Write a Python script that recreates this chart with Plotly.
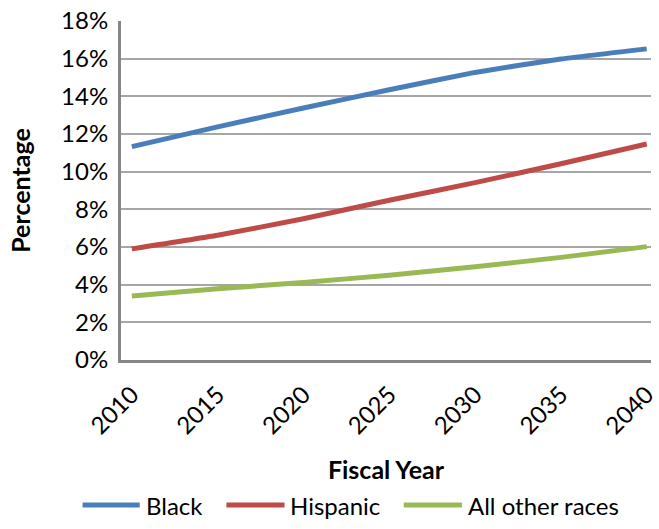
import plotly.graph_objects as go

years = [2010, 2015, 2020, 2025, 2030, 2035, 2040]
black = [11.33, 12.38, 13.38, 14.35, 15.27, 15.98, 16.52]
hispanic = [5.9, 6.62, 7.5, 8.48, 9.42, 10.42, 11.47]
other = [3.4, 3.78, 4.12, 4.5, 4.95, 5.45, 6.02]
series_names = ["Black", "Hispanic", "All other races"]
colors = ["#4A7EBB", "#BE4B48", "#98B954"]
y_ticks = [0, 2, 4, 6, 8, 10, 12, 14, 16, 18]
y_ticklabels = [f"{v}%" for v in y_ticks]

FONT = "Lato"
W, H = 659, 529
ML, MR, MT, MB = 121, 0, 21, 169
PW, PH = W - ML - MR, H - MT - MB

fig = go.Figure()
for name, vals, col in zip(series_names, [black, hispanic, other], colors):
    fig.add_trace(go.Scatter(x=years, y=vals, mode="lines", name=name, showlegend=False,
                             line=dict(color=col, width=5, shape="spline", smoothing=0.4)))

# custom legend (long swatches like the original), positions in pixels -> paper
def px_x(p):
    return (p - ML) / PW

def px_y(p):
    return (H - MB - p) / PH

legend_swatch_px = [(82, 140), (228, 287), (408, 467)]
legend_y_px = 505
for name, col, (x0, x1) in zip(series_names, colors, legend_swatch_px):
    fig.add_shape(type="line", xref="paper", yref="paper",
                  x0=px_x(x0), x1=px_x(x1), y0=px_y(legend_y_px), y1=px_y(legend_y_px),
                  line=dict(color=col, width=5))
    fig.add_annotation(xref="paper", yref="paper", x=px_x(x1 + 4), y=px_y(legend_y_px),
                       text=name, showarrow=False, xanchor="left", yanchor="middle",
                       font=dict(family=FONT, size=24, color="#000000"))

fig.update_layout(
    width=W, height=H,
    margin=dict(l=ML, r=MR, t=MT, b=MB),
    paper_bgcolor="white", plot_bgcolor="white",
    font=dict(family=FONT, size=24, color="#000000"),
    showlegend=False,
    xaxis=dict(
        tickmode="array", tickvals=years, ticktext=[str(y) for y in years],
        range=[2009.37, 2040.25], tickangle=-45,
        showgrid=False, zeroline=False,
        showline=True, linecolor="#878787", linewidth=3,
        ticks="", tickfont=dict(family=FONT, size=24),
        ticklabelstandoff=8, ticklabeloverflow="allow",
        title=dict(text="<b>Fiscal Year</b>", font=dict(family=FONT, size=25), standoff=24),
    ),
    yaxis=dict(
        tickmode="array", tickvals=y_ticks, ticktext=y_ticklabels,
        range=[0, 18], showgrid=True, gridcolor="#A6A6A6", gridwidth=2,
        zeroline=False, showline=True, linecolor="#878787", linewidth=3,
        ticks="", tickfont=dict(family=FONT, size=24),
        ticklabelstandoff=5,
        title=dict(text="<b>Percentage</b>", font=dict(family=FONT, size=25), standoff=24),
    ),
)

fig.write_html("out.html")
